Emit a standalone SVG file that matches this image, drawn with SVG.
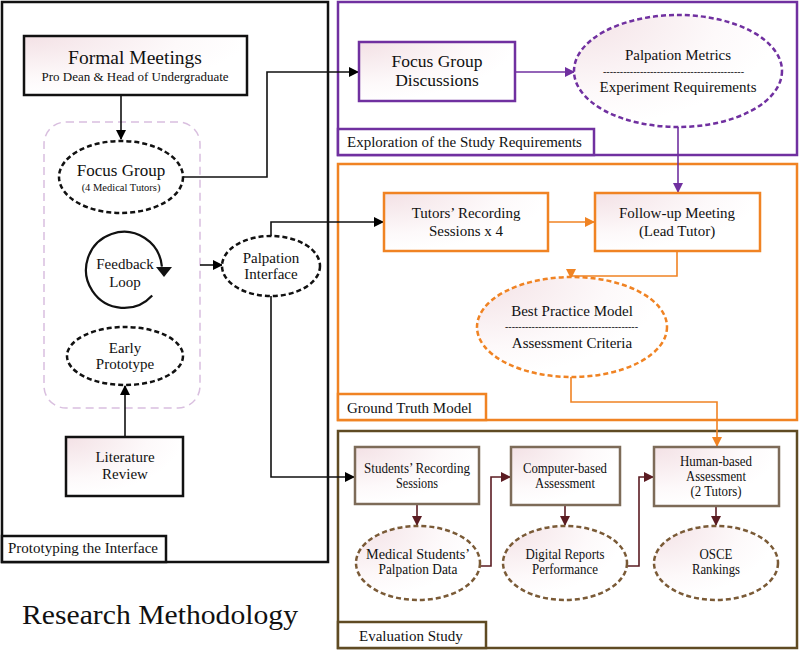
<svg xmlns="http://www.w3.org/2000/svg" width="800" height="651" viewBox="0 0 800 651">
<defs>
<radialGradient id="pink" cx="0" cy="0" r="1">
<stop offset="0" stop-color="#f3e1e5"/>
<stop offset="0.7" stop-color="#fdf9fa"/>
<stop offset="1" stop-color="#ffffff"/>
</radialGradient>
<marker id="ak" markerWidth="10" markerHeight="10" refX="9" refY="5" orient="auto" markerUnits="userSpaceOnUse"><path d="M0,0 L10,5 L0,10 z" fill="#000"/></marker>
<marker id="ap" markerWidth="10" markerHeight="10" refX="9" refY="5" orient="auto" markerUnits="userSpaceOnUse"><path d="M0,0 L10,5 L0,10 z" fill="#7030a0"/></marker>
<marker id="ao" markerWidth="10" markerHeight="10" refX="9" refY="5" orient="auto" markerUnits="userSpaceOnUse"><path d="M0,0 L10,5 L0,10 z" fill="#f08323"/></marker>
<marker id="ab" markerWidth="10" markerHeight="10" refX="9" refY="5" orient="auto" markerUnits="userSpaceOnUse"><path d="M0,0 L10,5 L0,10 z" fill="#5b1c22"/></marker>
</defs>
<style>
text{font-family:'Liberation Serif','DejaVu Serif',serif;fill:#111;text-anchor:middle}
.lbl{text-anchor:start;font-size:15px}
.panel{fill:none;stroke-width:2.5}
.lblbox{fill:#fff;stroke-width:2.5}
.box{fill:url(#pink);stroke-width:2.5}
.ell{fill:url(#pink);stroke-width:2.5;stroke-dasharray:5,3}
.ellw{fill:#fff;stroke:#111;stroke-width:2.5;stroke-dasharray:5,3}
.k{stroke:#111}.p{stroke:#7030a0}.o{stroke:#f08323}.b{stroke:#5f4b23}.bb{stroke:#7d6b58}.be{stroke:#7a5a36}
.c{fill:none;stroke-width:1.6}
.t15{font-size:15px}.t14{font-size:14px}
</style>

<!-- Panels -->
<g id="panel-prototyping">
<rect x="2" y="2" width="326" height="560" class="panel k"/>
<rect x="2" y="536" width="164" height="26" class="lblbox k"/>
<text x="8" y="553" class="lbl">Prototyping the Interface</text>
</g>
<g id="panel-exploration">
<rect x="338" y="2" width="459" height="153" class="panel p"/>
<rect x="338" y="129" width="256" height="26" class="lblbox p"/>
<text x="347" y="147" class="lbl">Exploration of the Study Requirements</text>
</g>
<g id="panel-groundtruth">
<rect x="338" y="164" width="459" height="256" class="panel o"/>
<rect x="338" y="394" width="148" height="26" class="lblbox o"/>
<text x="347" y="413" class="lbl">Ground Truth Model</text>
</g>
<g id="panel-evaluation">
<rect x="338" y="431" width="459" height="217" class="panel b"/>
<rect x="338" y="622" width="148" height="26" class="lblbox b"/>
<text x="359" y="641" class="lbl">Evaluation Study</text>
</g>

<g id="loop-container">
<rect x="44" y="122" width="156" height="286" rx="22" fill="none" stroke="#d9bfdf" stroke-width="1.5" stroke-dasharray="8,5"/>
</g>

<!-- Connectors -->
<g id="connectors">
<path d="M121,95 V139" class="c k" marker-end="url(#ak)"/>
<path d="M183,177 H267 V72 H358" class="c k" marker-end="url(#ak)"/>
<path d="M200,265 H222" class="c k" marker-end="url(#ak)"/>
<path d="M271,236 V222 H383" class="c k" marker-end="url(#ak)"/>
<path d="M271,296 V477 H354" class="c k" marker-end="url(#ak)"/>
<path d="M125,437 V386" class="c k" marker-end="url(#ak)"/>
<path d="M515,72 H574" class="c p" marker-end="url(#ap)"/>
<path d="M678,127 V192" class="c p" marker-end="url(#ap)"/>
<path d="M548,222 H594" class="c o" marker-end="url(#ao)"/>
<path d="M677,251 V276 H571 V278" class="c o" marker-end="url(#ao)"/>
<path d="M571,377 V402 H717 V446" class="c o" marker-end="url(#ao)"/>
<path d="M417,504 V525" class="c" stroke="#5b1c22" marker-end="url(#ab)"/>
<path d="M565,505 V525" class="c" stroke="#5b1c22" marker-end="url(#ab)"/>
<path d="M716,506 V525" class="c" stroke="#5b1c22" marker-end="url(#ab)"/>
<path d="M480,566 H491 V477 H510" class="c" stroke="#5b1c22" marker-end="url(#ab)"/>
<path d="M628,566 H639 V477 H653" class="c" stroke="#5b1c22" marker-end="url(#ab)"/>
</g>

<!-- Nodes -->
<g id="formal-meetings">
<rect x="24" y="36" width="223" height="59" class="box k"/>
<text x="135" y="64" style="font-size:19.5px">Formal Meetings</text>
<text x="135" y="81" style="font-size:13px">Pro Dean &amp; Head of Undergraduate</text>
</g>
<g id="focus-group">
<ellipse cx="121" cy="177" rx="62" ry="36" class="ellw"/>
<text x="121" y="176" style="font-size:17px">Focus Group</text>
<text x="121" y="191" style="font-size:10.5px">(4 Medical Tutors)</text>
</g>
<g id="feedback-loop">
<path d="M152.2,295.4 A38,38 0 1 1 161.9,266.7" fill="none" stroke="#111" stroke-width="2.2"/>
<polygon points="156,267 172,267 164,277" fill="#111"/>
<text x="125" y="269" class="t15">Feedback</text>
<text x="125" y="287" class="t15">Loop</text>
</g>
<g id="early-prototype">
<ellipse cx="125" cy="356" rx="58" ry="29" class="ellw"/>
<text x="125" y="353" class="t15">Early</text>
<text x="125" y="369" class="t15">Prototype</text>
</g>
<g id="literature-review">
<rect x="66" y="437" width="117" height="59" class="box k"/>
<text x="125" y="462" class="t15">Literature</text>
<text x="125" y="479" class="t15">Review</text>
</g>
<g id="palpation-interface">
<ellipse cx="271" cy="266" rx="49" ry="30" class="ellw"/>
<text x="271" y="263" class="t15">Palpation</text>
<text x="271" y="279" class="t15">Interface</text>
</g>

<g id="focus-group-discussions">
<rect x="359" y="42" width="156" height="59" class="box p"/>
<text x="437" y="67" style="font-size:17.5px">Focus Group</text>
<text x="437" y="86" style="font-size:17.5px">Discussions</text>
</g>
<g id="palpation-metrics">
<ellipse cx="678" cy="71" rx="104" ry="56" class="ell p"/>
<text x="678" y="60" class="t15">Palpation Metrics</text>
<text x="673.5" y="75" style="font-size:10px" textLength="141" lengthAdjust="spacingAndGlyphs">------------------------------------------</text>
<text x="678" y="92" class="t15">Experiment Requirements</text>
</g>

<g id="tutors-recording">
<rect x="384" y="193" width="164" height="58" class="box o"/>
<text x="466" y="218" class="t15">Tutors’ Recording</text>
<text x="466" y="236" class="t15">Sessions x 4</text>
</g>
<g id="follow-up-meeting">
<rect x="595" y="193" width="165" height="58" class="box o"/>
<text x="677" y="218" class="t15">Follow-up Meeting</text>
<text x="677" y="236" class="t15">(Lead Tutor)</text>
</g>
<g id="best-practice">
<ellipse cx="572" cy="327" rx="95" ry="50" class="ell o"/>
<text x="572" y="316" class="t15">Best Practice Model</text>
<text x="571.5" y="330" style="font-size:10px" textLength="133" lengthAdjust="spacingAndGlyphs">----------------------------------------</text>
<text x="572" y="348" class="t15">Assessment Criteria</text>
</g>

<g id="students-recording">
<rect x="355" y="447" width="124" height="57" class="box bb"/>
<text x="417" y="473" class="t14" textLength="106" lengthAdjust="spacingAndGlyphs">Students’ Recording</text>
<text x="417" y="488" class="t14" textLength="42" lengthAdjust="spacingAndGlyphs">Sessions</text>
</g>
<g id="computer-based">
<rect x="511" y="447" width="109" height="58" class="box bb"/>
<text x="565" y="473" class="t14" textLength="84" lengthAdjust="spacingAndGlyphs">Computer-based</text>
<text x="565" y="488" class="t14" textLength="60" lengthAdjust="spacingAndGlyphs">Assessment</text>
</g>
<g id="human-based">
<rect x="654" y="447" width="125" height="59" class="box bb"/>
<text x="716" y="466" class="t14" textLength="72" lengthAdjust="spacingAndGlyphs">Human-based</text>
<text x="716" y="481" class="t14" textLength="60" lengthAdjust="spacingAndGlyphs">Assessment</text>
<text x="716" y="496" class="t14" textLength="51" lengthAdjust="spacingAndGlyphs">(2 Tutors)</text>
</g>
<g id="palpation-data">
<ellipse cx="418" cy="563" rx="62" ry="37" class="ell be"/>
<text x="418" y="559" class="t14" textLength="104" lengthAdjust="spacingAndGlyphs">Medical Students’</text>
<text x="418" y="574" class="t14" textLength="79" lengthAdjust="spacingAndGlyphs">Palpation Data</text>
</g>
<g id="digital-reports">
<ellipse cx="565" cy="563" rx="62" ry="37" class="ell be"/>
<text x="565" y="559" class="t14" textLength="79" lengthAdjust="spacingAndGlyphs">Digital Reports</text>
<text x="565" y="574" class="t14" textLength="66" lengthAdjust="spacingAndGlyphs">Performance</text>
</g>
<g id="osce-rankings">
<ellipse cx="716" cy="563" rx="62" ry="37" class="ell be"/>
<text x="716" y="559" class="t14" textLength="33" lengthAdjust="spacingAndGlyphs">OSCE</text>
<text x="716" y="574" class="t14" textLength="48" lengthAdjust="spacingAndGlyphs">Rankings</text>
</g>

<g id="title">
<text x="22" y="624" style="font-size:28px;text-anchor:start" textLength="276" lengthAdjust="spacingAndGlyphs">Research Methodology</text>
</g>
</svg>
